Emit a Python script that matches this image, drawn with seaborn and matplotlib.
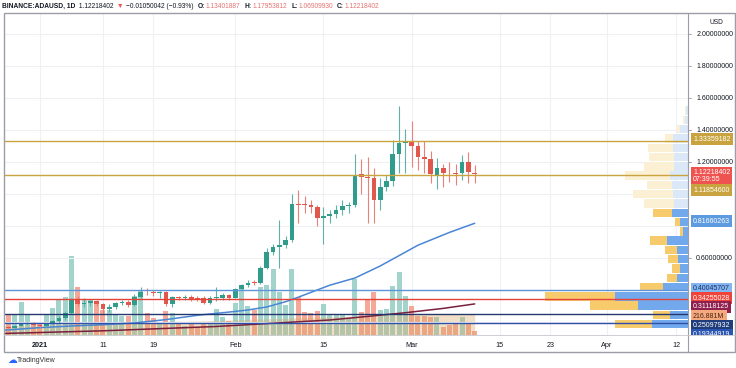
import numpy as np
import pandas as pd
import seaborn as sns
import matplotlib.pyplot as plt
import matplotlib.dates as mdates
from matplotlib.lines import Line2D
from matplotlib.patches import Rectangle

# daily candles, 2020-12-27 .. 2021-03-11
dates = pd.date_range('2020-12-27', '2021-03-11', freq='D')
opens = [.170, .163, .178, .188, .195, .182, .178, .188, .205, .226, .258, .338, .310, .318, .332,
         .312, .282, .292, .318, .322, .308, .356, .390, .385, .380, .386, .312, .355, .351, .357,
         .345, .350, .320, .350, .352, .370, .352, .405, .430, .448, .444, .540, .636, .668, .680,
         .710, .940, .938, .934, .920, .853, .862, .874, .900, .922, .932, 1.124, 1.105, 1.100, .965,
         1.045, 1.081, 1.250, 1.319, 1.322, 1.300, 1.232, 1.220, 1.119, 1.162, 1.138, 1.132, 1.131, 1.200,
         1.13401887]
highs = [.178, .182, .190, .198, .198, .186, .190, .212, .235, .268, .352, .362, .350, .340, .338,
         .318, .310, .325, .340, .335, .372, .420, .410, .400, .396, .392, .360, .362, .366, .370,
         .360, .362, .360, .420, .380, .376, .412, .440, .462, .462, .552, .660, .690, .840, .740,
         1.000, 1.025, .990, .960, .930, .920, .900, .930, .960, .950, 1.250, 1.220, 1.230, 1.160, 1.100,
         1.120, 1.338, 1.550, 1.406, 1.456, 1.330, 1.330, 1.270, 1.225, 1.188, 1.200, 1.190, 1.244, 1.263,
         1.17953812]
lows = [.158, .160, .172, .180, .178, .170, .168, .184, .192, .214, .252, .300, .292, .300, .300,
        .250, .262, .280, .305, .295, .300, .345, .370, .362, .352, .300, .292, .336, .340, .334,
        .330, .310, .310, .330, .340, .340, .348, .398, .418, .430, .440, .530, .620, .540, .660,
        .700, .820, .880, .880, .800, .690, .820, .850, .870, .880, .920, 1.000, .820, .820, .900,
        1.020, 1.050, 1.130, 1.131, 1.169, 1.150, 1.130, 1.069, 1.031, 1.044, 1.075, 1.056, 1.087, 1.069,
        1.06909930]
closes = [.163, .178, .188, .195, .182, .178, .188, .205, .226, .258, .338, .310, .318, .332, .312,
          .282, .292, .318, .322, .308, .356, .388, .385, .381, .386, .312, .355, .351, .357, .345,
          .342, .320, .350, .352, .370, .352, .405, .430, .445, .444, .540, .636, .668, .680, .710,
          .940, .934, .932, .920, .853, .862, .874, .900, .922, .932, 1.118, 1.105, 1.100, .965, 1.045,
          1.081, 1.250, 1.319, 1.322, 1.300, 1.232, 1.220, 1.126, 1.162, 1.131, 1.135, 1.128, 1.200, 1.138,
          1.12218402]
volumes = [1050, 1000, 1650, 1000, 600, 550, 1000, 1350, 1800, 1900, 3950, 2400, 1800, 1750, 1650,
           1250, 1250, 1050, 950, 950, 1950, 2200, 1100, 850, 650, 1200, 1100, 550, 450, 600,
           400, 600, 600, 1300, 900, 700, 1600, 2350, 1450, 1250, 2400, 2500, 3300, 2150, 1500,
           3300, 1900, 1150, 1100, 1200, 1550, 1000, 1000, 1000, 850, 2800, 1150, 1800, 2150, 1250,
           1300, 2450, 3150, 1950, 1450, 950, 950, 900, 900, 400, 500, 600, 900, 600, 216.881]  # millions

# moving averages
ma_fast_dates = ['2020-12-26', '2021-01-01', '2021-01-06', '2021-01-11', '2021-01-16', '2021-01-21',
                 '2021-01-26', '2021-01-31', '2021-02-03', '2021-02-06', '2021-02-09', '2021-02-11',
                 '2021-02-16', '2021-02-20', '2021-02-24', '2021-02-27', '2021-03-02', '2021-03-07',
                 '2021-03-11']
ma_fast = [.148, .165, .175, .183, .194, .215, .242, .262, .275, .294, .327, .355, .430, .475, .550,
           .615, .680, .760, .817]
ma_slow_dates = ['2020-12-26', '2021-01-11', '2021-01-21', '2021-01-29', '2021-02-06', '2021-02-16',
                 '2021-02-22', '2021-02-28', '2021-03-06', '2021-03-11']
ma_slow = [.128, .145, .160, .172, .190, .2125, .235, .258, .285, .313]
vol_ma_dates = ['2020-12-26', '2021-01-11', '2021-01-26', '2021-02-10', '2021-02-25', '2021-03-11']
vol_ma = [450, 620, 700, 850, 1000, 1050]

# horizontal levels
levels = [1.33359182, 1.11854600, 0.40045707, 0.34255028, 0.25097932, 0.19344919]
level_colors = ['#c9a43e', '#c9a43e', '#5e93dc', '#e5433a', '#24386f', '#2f4fa8']

# visible range volume profile (24 rows, bottom to top)
vp_low, vp_high = 0.157, 1.55
vp_up = [36, 18, 50, 73, 25, 11, 8, 10, 11, 21, 5, 8, 16, 14, 15, 16, 18, 14, 14, 15, 15, 8, 3, 2]
vp_down = [37, 17, 48, 70, 23, 10, 8, 10, 12, 17, 3, 5, 19, 30, 40, 25, 45, 30, 25, 25, 8, 3, 2, 1]
vp_value_area = [True] * 13 + [False] * 11

tick_dates = ['2021-01-01', '2021-01-11', '2021-01-19', '2021-02-01', '2021-02-15', '2021-03-01',
              '2021-03-15', '2021-03-23', '2021-04-01', '2021-04-12']
tick_labels = ['2021', '11', '19', 'Feb', '15', 'Mar', '15', '23', 'Apr', '12']
price_ticks = [2.0, 1.8, 1.6, 1.4, 1.2, 0.6]

# right scale labels: text, y pixel, box colour, text colour
scale_labels = [('1.33359182', 139, '#c9a43e', 'white'),
                ('1.12218402\n07:39:55', 176, '#ef5350', 'white'),
                ('1.11854600', 190, '#c9a43e', 'white'),
                ('0.81660263', 221, '#5d9be0', 'white'),
                ('0.40045707', 289, '#84b5ee', '#17336b'),
                ('0.34255028', 298, '#f0443a', 'white'),
                ('0.31118125', 307, '#8e1f4f', 'white'),
                ('216.881M', 316, '#f6a97f', '#4a2510'),
                ('0.25097932', 325.5, '#1f3d7a', 'white'),
                ('0.19344919', 335, '#2a55b0', 'white')]

sns.set_style('white')
plt.rcParams['font.family'] = ['Liberation Sans', 'DejaVu Sans']

W, H = 736, 368


def fx(px):
    return px / W


def fy(py):
    return 1 - py / H


def ypx_to_price(py):
    return 2.0 - (py - 34) / 160


fig = plt.figure(figsize=(7.36, 3.68), dpi=100)
rect = [fx(4), fy(335), fx(688) - fx(4), fy(13) - fy(335)]
axv = fig.add_axes(rect)   # volume
axp = fig.add_axes(rect)   # volume profile
ax = fig.add_axes(rect)    # price
axr = fig.add_axes([fx(688), fy(335), fx(736) - fx(688), fy(13) - fy(335)])  # price scale

x = mdates.date2num(dates)
base = mdates.date2num(pd.Timestamp('2021-01-01'))
xlim = (base - 5.71, base + 102.86)
ylim = (0.11875, 2.13125)
opens, highs, lows, closes = map(np.array, (opens, highs, lows, closes))
up = closes >= opens

# grid
for t in tick_dates:
    axv.axvline(mdates.date2num(pd.Timestamp(t)), color='#eef0f4', lw=0.8, zorder=0)
for p in np.arange(0.2, 2.01, 0.2):
    axp.axhline(p, color='#eef0f4', lw=0.8, zorder=0)

# volume
axv.bar(x, volumes, width=0.8, color=np.where(up, '#a3d4cc', '#f5a897'), lw=0, zorder=2)
axv.fill_between(mdates.date2num(pd.to_datetime(vol_ma_dates)), vol_ma, color='#d9a760', alpha=0.35,
                 lw=0, zorder=3)
axv.set_xlim(xlim)
axv.set_ylim(0, 322 * 50)

# volume profile
row_h = (vp_high - vp_low) / len(vp_up)
rows = vp_low + row_h * (np.arange(len(vp_up)) + 0.5)
c_up = ['#72a9ec' if v else '#dbe8f8' for v in vp_value_area]
c_dn = ['#f7cb6c' if v else '#fcf0d4' for v in vp_value_area]
axp.barh(rows, vp_up, height=row_h * 0.9, left=0, color=c_up, lw=0, zorder=2)
axp.barh(rows, vp_down, height=row_h * 0.9, left=vp_up, color=c_dn, lw=0, zorder=2)
axp.set_xlim(684, 0)
axp.set_ylim(ylim)

# candles
ax.vlines(x, lows, highs, color=np.where(up, '#5fb3a6', '#e98079'), lw=0.8, zorder=3)
ax.bar(x, np.maximum(np.abs(closes - opens), 0.005), bottom=np.minimum(opens, closes), width=0.75,
       color=np.where(up, '#2f9c8c', '#e2574c'), lw=0, zorder=4)

# moving averages
sns.lineplot(x=mdates.date2num(pd.to_datetime(ma_fast_dates)), y=ma_fast, ax=ax, color='#4a86d4', lw=1.1)
sns.lineplot(x=mdates.date2num(pd.to_datetime(ma_slow_dates)), y=ma_slow, ax=ax, color='#7a1f3d', lw=1.1)

for lv, c in zip(levels, level_colors):
    ax.axhline(lv, color=c, lw=1.0, zorder=5)

ax.set_xlim(xlim)
ax.set_ylim(ylim)
ax.patch.set_alpha(0)
ax.set_xlabel('')
ax.set_ylabel('')
ax.set_yticks([])
ax.set_xticks(mdates.date2num(pd.to_datetime(tick_dates)))
ax.set_xticklabels(tick_labels, fontsize=5.2, color='#131722')
ax.get_xticklabels()[0].set_fontweight('bold')
ax.tick_params(axis='x', length=0, pad=5)
for a in (ax, axv, axp):
    for s in a.spines.values():
        s.set_visible(False)
axv.set_xticks([])
axv.set_yticks([])
axp.set_xticks([])
axp.set_yticks([])
axp.patch.set_alpha(0)

# price scale
axr.set_xlim(0, 1)
axr.set_ylim(ylim)
axr.axis('off')
for p in price_ticks:
    axr.plot([0, 0.06], [p, p], color='#9598a1', lw=0.6)
    axr.text(0.17, p, f'{p:.8f}', fontsize=5.0, color='#131722', va='center')
axr.text(0.6, ypx_to_price(22), 'USD', fontsize=4.8, color='#131722', ha='center', va='center')
for txt, py, fc, tc in scale_labels:
    axr.text(0.106, ypx_to_price(py), txt, fontsize=5.0, color=tc, va='center', ha='left',
             linespacing=1.1, bbox=dict(boxstyle='square,pad=0.3', fc=fc, ec='none'), clip_on=True)

# frame
frame = Rectangle((fx(4), fy(352)), fx(735) - fx(4), fy(13) - fy(352), transform=fig.transFigure,
                  fill=False, ec='#9b9ea8', lw=1.0)
fig.add_artist(frame)
fig.add_artist(Line2D([fx(688), fx(688)], [fy(13), fy(352)], transform=fig.transFigure, color='#9b9ea8', lw=0.8))
fig.add_artist(Line2D([fx(4), fx(735)], [fy(335), fy(335)], transform=fig.transFigure, color='#c5c8ce', lw=0.6))

# header line
pieces = [(' 1.12218402', 'normal', '#131722', 1.5),
          ('▼', 'normal', '#ef5350', 2),
          ('−0.01050042 (−0.93%)', 'normal', '#131722', 2),
          ('O:', 'bold', '#131722', 3),
          ('1.13401887', 'normal', '#e57373', 0.5),
          ('H:', 'bold', '#131722', 3),
          ('1.17953812', 'normal', '#e57373', 0.5),
          ('L:', 'bold', '#131722', 3),
          ('1.06909930', 'normal', '#e57373', 0.5),
          ('C:', 'bold', '#131722', 3),
          ('1.12218402', 'normal', '#e57373', 0.5)]
prev = fig.text(fx(2), fy(6), 'BINANCE:ADAUSD, 1D', fontsize=4.8, fontweight='bold', color='#131722',
                va='center')
for txt, wt, col, gap in pieces:
    prev = ax.annotate(txt, xy=(1, 0.5), xycoords=prev, xytext=(gap, 0), textcoords='offset points',
                       fontsize=4.8, fontweight=wt, color=col, va='center', ha='left', annotation_clip=False)

fig.text(fx(7), fy(360), '☁', fontsize=7, color='#2962ff', va='center')
fig.text(fx(17), fy(360), 'TradingView', fontsize=5, color='#333333', va='center')

fig.savefig('out.png', dpi=100, facecolor='white')
